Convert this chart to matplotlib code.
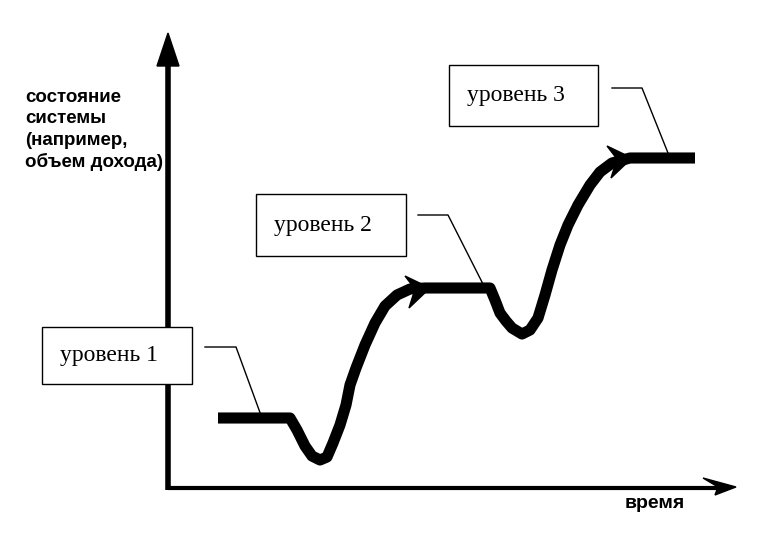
import numpy as np
import matplotlib
matplotlib.use("Agg")
from matplotlib import pyplot as plt
from matplotlib.patches import Rectangle, Polygon

# path of the system state (pixel-like diagram units, y grows downward)
curve_x = [218, 290, 297, 305, 312, 320, 327, 333, 340, 346, 350, 356, 365, 375, 385, 397, 410, 425,
           490, 495, 500, 506, 512, 522, 530, 538, 545, 552, 560, 568, 578, 590, 600, 612, 630, 695]
curve_y = [418, 418, 430, 446, 456, 460, 457, 443, 425, 405, 385, 368, 345, 323, 306, 295, 289, 288,
           288, 300, 313, 321, 328, 334, 330, 318, 295, 270, 245, 225, 205, 185, 172, 163, 158, 158]

levels = ["уровень 1", "уровень 2", "уровень 3"]
level_boxes = [(42, 327, 150, 57), (256, 194, 150, 62), (449, 65, 149, 61)]
leader_x = [[205, 236, 262], [418, 448, 485], [612, 642, 670]]
leader_y = [[347, 347, 418], [215, 215, 288], [88, 88, 158]]
arrow_tips = [(430, 288), (632, 158)]

y_label = "состояние\nсистемы\n(например,\nобъем дохода)"
x_label = "время"

fig = plt.figure(figsize=(7.67, 5.34), dpi=100)
ax = fig.add_axes([0, 0, 1, 1])
ax.set_xlim(0, 767)
ax.set_ylim(534, 0)
ax.axis("off")

# axes of the diagram
ax.plot([168, 168], [490, 62], color="black", lw=4, solid_capstyle="butt")
ax.add_patch(Polygon([[157, 66], [179, 66], [168, 33]], closed=True, color="black"))
ax.plot([168, 720], [488, 488], color="black", lw=3, solid_capstyle="butt")
ax.add_patch(Polygon([[703, 478], [736, 487], [715, 495], [718, 487]], closed=True, color="black"))

# curve
ax.plot(curve_x, curve_y, color="black", lw=8, solid_joinstyle="round", solid_capstyle="butt")
for tx, ty in arrow_tips:
    ax.add_patch(Polygon([[tx, ty], [tx - 25, ty - 12], [tx - 15, ty + 1], [tx - 21, ty + 20]],
                         closed=True, color="black"))

# level boxes and leader lines
for label, (bx, by, bw, bh), lx, ly in zip(levels, level_boxes, leader_x, leader_y):
    ax.add_patch(Rectangle((bx, by), bw, bh, facecolor="white", edgecolor="black", lw=1, zorder=3))
    ax.text(bx + 18, by + bh / 2, label, family="Liberation Serif", fontsize=17,
            ha="left", va="center", zorder=4)
    ax.plot(lx, ly, color="black", lw=1)

ax.text(25, 89, y_label, family="Liberation Sans", fontweight="bold", fontsize=13.5,
        ha="left", va="top", linespacing=1.33)
ax.text(625, 503, x_label, family="Liberation Sans", fontweight="bold", fontsize=14,
        ha="left", va="center")

fig.savefig("out.png", dpi=100)
